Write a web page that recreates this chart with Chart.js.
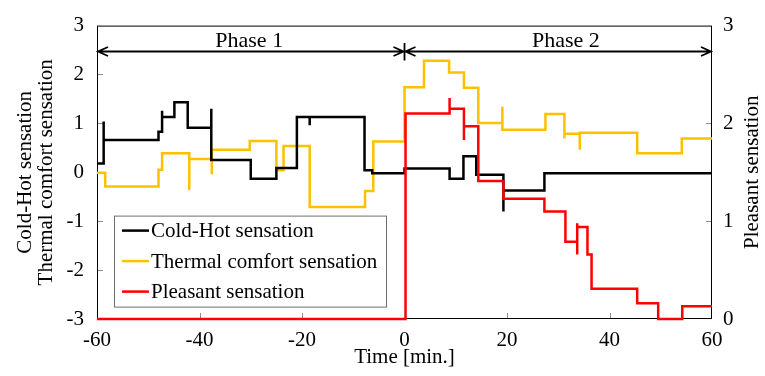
<!DOCTYPE html>
<html>
<head>
<meta charset="utf-8">
<script src="https://cdn.jsdelivr.net/npm/chart.js@4.4.1/dist/chart.umd.min.js"></script>
<style>
  html, body { margin: 0; padding: 0; background: #fff; }
  #wrap { width: 765px; height: 376px; position: relative; }
</style>
</head>
<body>
<div id="wrap"><canvas id="chart"></canvas></div>
<script>
const FONT = "'Liberation Serif', 'Times New Roman', serif";

// Ступенчатые ряды: значение держится до следующего момента времени,
// повтор одного времени = короткий всплеск
const coldHotTime = [-60, -58.7, -58.7, -48, -47.3, -47.3, -44.9, -42.3, -37.7, -37.7, -30, -25, -21, -18.5, -18.5, -7.8, -6.3, 0, 8.8, 11.5, 14, 19.3, 19.3, 27.3, 60];
const coldHotValue = [0.18, 1.04, 0.66, 0.83, 1.26, 1.13, 1.43, 0.91, 1.3, 0.25, -0.13, 0.09, 1.13, 0.96, 1.13, 0.04, -0.02, 0.08, -0.13, 0.33, -0.05, -0.8, -0.37, -0.02, -0.02];

const thermalTime = [-60, -58.4, -48, -47.3, -42, -42, -37.6, -37.6, -30.2, -25, -23.6, -18.5, -7.7, -6.1, 0, 3.8, 8.7, 11.6, 14.4, 19.1, 19.1, 27.5, 31.2, 31.2, 34.2, 34.2, 45.4, 54.1, 60];
const thermalValue = [-0.01, -0.29, 0.05, 0.39, -0.36, 0.27, -0.04, 0.46, 0.64, 0.04, 0.54, -0.71, -0.38, 0.63, 1.74, 2.28, 2.04, 1.73, 1.01, 1.34, 0.87, 1.19, 0.69, 0.79, 0.46, 0.81, 0.39, 0.69, 0.69];

const pleasantTime = [-60, 0.2, 8.8, 8.8, 11.6, 11.6, 14.4, 19.3, 27.3, 31.4, 33.7, 33.7, 33.7, 35.7, 36.5, 45.4, 49.5, 54.2, 60];
const pleasantValue = [0, 2.1, 2.26, 2.15, 1.83, 1.97, 1.41, 1.23, 1.1, 0.79, 0.98, 0.66, 0.94, 0.66, 0.31, 0.16, 0, 0.13, 0.13];

const seriesNames = ['Cold-Hot sensation', 'Thermal comfort sensation', 'Pleasant sensation'];
const seriesColors = ['#000000', '#FFC000', '#FF0000'];

const phaseNames = ['Phase 1', 'Phase 2'];
const phaseStart = [-60, 0];
const phaseEnd = [0, 60];

function toPoints(times, values) {
  return times.map((t, i) => ({ x: t, y: values[i] }));
}

// Рамка и внутренние засечки — под линиями данных
const framePlugin = {
  id: 'frame',
  beforeDatasetsDraw(chart) {
    const { ctx, chartArea: ca, scales } = chart;
    const x = scales.x, y = scales.y, y2 = scales.y2;
    ctx.save();
    ctx.strokeStyle = '#8c8c8c';
    ctx.lineWidth = 1;
    ctx.beginPath();
    [-2, -1, 0, 1, 2].forEach(v => {
      const py = Math.round(y.getPixelForValue(v)) + 0.5;
      ctx.moveTo(ca.left, py); ctx.lineTo(ca.left + 6, py);
    });
    [1, 2].forEach(v => {
      const py = Math.round(y2.getPixelForValue(v)) + 0.5;
      ctx.moveTo(ca.right, py); ctx.lineTo(ca.right - 6, py);
    });
    [-40, -20, 0, 20, 40].forEach(v => {
      const px = Math.round(x.getPixelForValue(v)) + 0.5;
      ctx.moveTo(px, ca.bottom); ctx.lineTo(px, ca.bottom - 6);
    });
    ctx.stroke();

    ctx.strokeStyle = '#000';
    ctx.lineWidth = 1;
    ctx.strokeRect(ca.left + 0.5, ca.top + 0.5, ca.right - ca.left - 1, ca.bottom - ca.top - 1);
    ctx.restore();
  }
};

// Стрелки фаз, правый заголовок и легенда
const decorPlugin = {
  id: 'decor',
  afterDraw(chart) {
    const { ctx, chartArea: ca, scales } = chart;
    const x = scales.x, y = scales.y;
    ctx.save();

    const ay = Math.round(y.getPixelForValue(2.48)) + 0.5;
    ctx.strokeStyle = '#000';
    ctx.lineWidth = 1.8;
    ctx.beginPath();
    ctx.moveTo(x.getPixelForValue(-60), ay);
    ctx.lineTo(x.getPixelForValue(60), ay);
    const head = (tx, dir) => {
      ctx.moveTo(tx + dir * 10, ay - 4.5);
      ctx.lineTo(tx, ay);
      ctx.lineTo(tx + dir * 10, ay + 4.5);
    };
    phaseStart.forEach(t => head(x.getPixelForValue(t) + 1, 1));
    phaseEnd.forEach(t => head(x.getPixelForValue(t) - 1, -1));
    const mx = x.getPixelForValue(0);
    ctx.moveTo(mx, ay - 8.5);
    ctx.lineTo(mx, ay + 9);
    ctx.stroke();

    ctx.fillStyle = '#000';
    ctx.font = '22px ' + FONT;
    ctx.textAlign = 'center';
    ctx.textBaseline = 'alphabetic';
    phaseNames.forEach((name) => {
      const cx = name === 'Phase 1' ? x.getPixelForValue(-30.3) : x.getPixelForValue(31.5);
      ctx.fillText(name, cx, ay - 4.5);
    });

    // заголовок правой оси (снизу вверх)
    ctx.font = '21px ' + FONT;
    ctx.save();
    ctx.translate(752, (ca.top + ca.bottom) / 2);
    ctx.rotate(-Math.PI / 2);
    ctx.textBaseline = 'middle';
    ctx.fillText('Pleasant sensation', 0, 0);
    ctx.restore();

    // легенда
    const lx = ca.left + 17, ly = ca.top + 190, lw = 272, lh = 91;
    ctx.fillStyle = '#fff';
    ctx.fillRect(lx, ly, lw, lh);
    ctx.strokeStyle = '#6e6e6e';
    ctx.lineWidth = 1;
    ctx.strokeRect(lx + 0.5, ly + 0.5, lw, lh);
    ctx.textAlign = 'left';
    ctx.textBaseline = 'middle';
    chart.data.datasets.forEach((ds, i) => {
      const rowY = ly + 15 + i * 30.5;
      ctx.strokeStyle = ds.borderColor;
      ctx.lineWidth = 2.5;
      ctx.beginPath();
      ctx.moveTo(lx + 8, rowY);
      ctx.lineTo(lx + 35, rowY);
      ctx.stroke();
      ctx.fillStyle = '#000';
      ctx.fillText(ds.label, lx + 37, rowY + 1);
    });

    ctx.restore();
  }
};

const tickFont = { family: FONT, size: 21 };

const ctx = document.getElementById('chart').getContext('2d');
new Chart(ctx, {
  type: 'line',
  data: {
    datasets: [
      {
        label: seriesNames[0],
        data: toPoints(coldHotTime, coldHotValue),
        yAxisID: 'y',
        borderColor: seriesColors[0],
        order: 2,
      },
      {
        label: seriesNames[1],
        data: toPoints(thermalTime, thermalValue),
        yAxisID: 'y',
        borderColor: seriesColors[1],
        order: 3,
      },
      {
        label: seriesNames[2],
        data: toPoints(pleasantTime, pleasantValue),
        yAxisID: 'y2',
        borderColor: seriesColors[2],
        order: 1,
      },
    ].map(ds => Object.assign(ds, {
      backgroundColor: ds.borderColor,
      borderWidth: 2.5,
      pointRadius: 0,
      stepped: 'before',
      fill: false,
      clip: false,
      borderJoinStyle: 'miter',
    })),
  },
  options: {
    animation: false,
    responsive: true,
    maintainAspectRatio: false,
    layout: { padding: { top: 20, left: 0, right: 0, bottom: 0 } },
    plugins: {
      legend: { display: false },
      tooltip: { enabled: false },
    },
    scales: {
      x: {
        type: 'linear',
        min: -60,
        max: 60,
        grid: { display: false, drawTicks: false },
        border: { display: false },
        ticks: { stepSize: 20, color: '#000', font: tickFont, padding: 9, maxRotation: 0 },
        title: { display: true, text: 'Time [min.]', color: '#000', font: { family: FONT, size: 21, lineHeight: 1 }, padding: { top: 0, bottom: 8 } },
        afterFit: (s) => { s.height = 57; },
      },
      y: {
        position: 'left',
        min: -3,
        max: 3,
        grid: { display: false, drawTicks: false },
        border: { display: false },
        ticks: { stepSize: 1, color: '#000', font: tickFont, padding: 13 },
        title: {
          display: true,
          text: ['Cold-Hot sensation', 'Thermal comfort sensation'],
          color: '#000',
          font: { family: FONT, size: 21, lineHeight: 1 },
          padding: { top: 15, bottom: 0 },
        },
        afterFit: (s) => { s.width = 97; },
      },
      y2: {
        position: 'right',
        min: 0,
        max: 3,
        grid: { display: false, drawTicks: false },
        border: { display: false },
        ticks: { stepSize: 1, color: '#000', font: tickFont, padding: 11 },
        title: { display: false },
        afterFit: (s) => { s.width = 53; },
      },
    },
  },
  plugins: [framePlugin, decorPlugin],
});
</script>
</body>
</html>
